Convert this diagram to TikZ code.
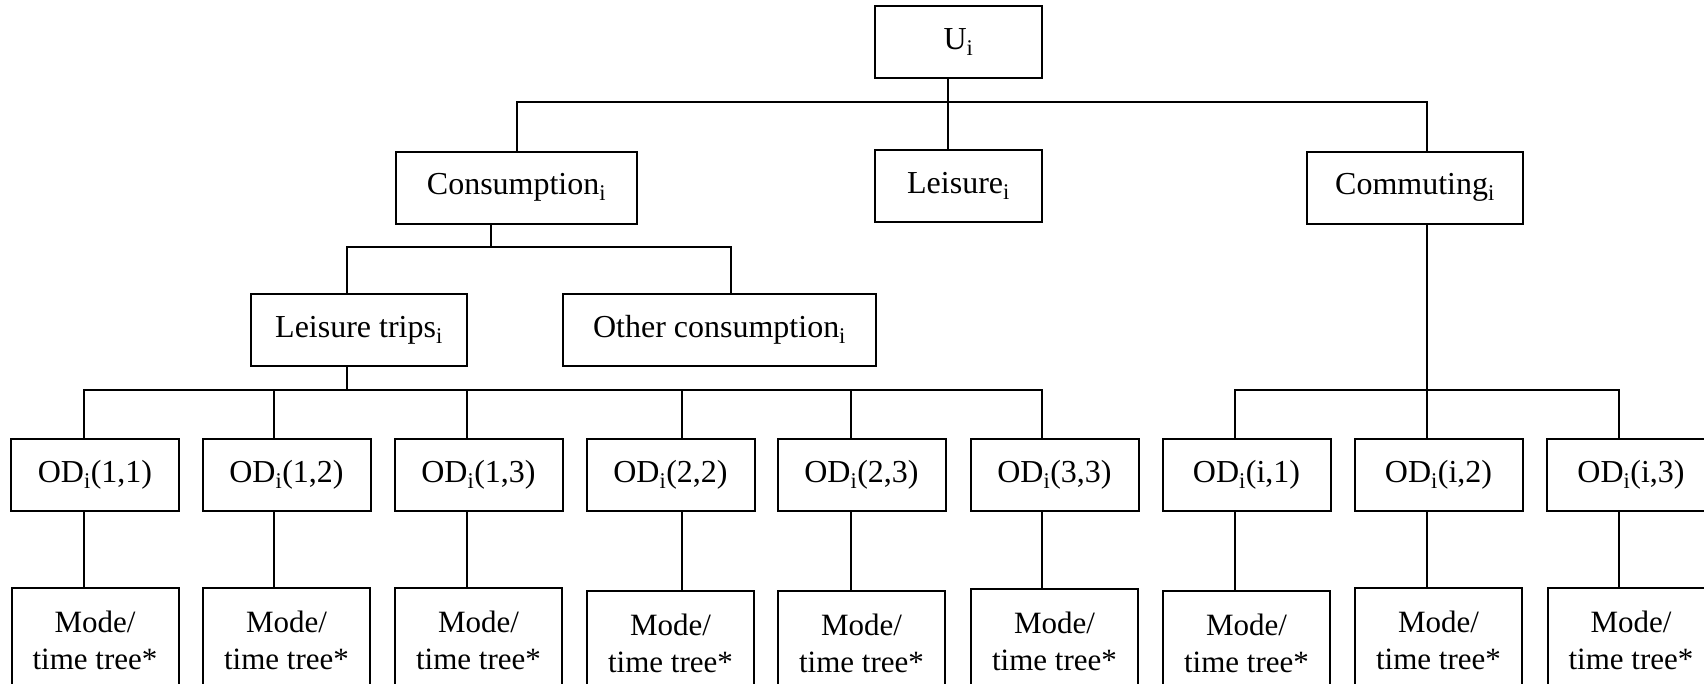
\documentclass[tikz,border=0pt]{standalone}
\usepackage{fontspec}
\setmainfont{Liberation Serif}

\begin{document}
\begin{tikzpicture}[x=1pt,y=-1pt,line width=2pt,
    box/.style={draw,rectangle,inner sep=0pt,minimum height=72pt,font=\fontsize{32}{37}\selectfont},
    leaf/.style={box,align=center,minimum width=167pt,minimum height=104pt,font=\fontsize{31}{37}\selectfont}]

    \useasboundingbox (0,0) rectangle (1704,683);

    % upper levels
    \node[box,minimum width=167pt] (U) at (958.5,42) {U\textsubscript{i}};
    \node[box,minimum width=241pt] (cons) at (516.5,187.5) {Consumption\textsubscript{i}};
    \node[box,minimum width=167pt] (leis) at (958.5,186) {Leisure\textsubscript{i}};
    \node[box,minimum width=216pt] (comm) at (1415,187.5) {Commuting\textsubscript{i}};
    \node[box,minimum width=216pt] (trips) at (359,330) {Leisure trips\textsubscript{i}};
    \node[box,minimum width=313pt] (other) at (719.5,330) {Other consumption\textsubscript{i}};

    % OD boxes and their mode/time trees
    \foreach \i/\x/\lab/\t in {1/95/{1,1}/588, 2/286.5/{1,2}/588, 3/478.5/{1,3}/588,
                               4/670.5/{2,2}/591, 5/861.5/{2,3}/591, 6/1054.5/{3,3}/589,
                               7/1246.5/{i,1}/591, 8/1438.5/{i,2}/588, 9/1631/{i,3}/588}{
        \node[box,minimum width=168pt] (od\i) at (\x,474.5) {OD\textsubscript{i}(\lab)};
        \node[leaf] (mt\i) at (\x,\t+52) {Mode/\\time tree*};
    }

    % connectors
    \coordinate (top) at (947.5,102);
    \draw (U.south -| top) -- (leis.north -| top);
    \draw (cons.north -| 517,0) |- (top) -| (comm.north -| 1427,0);

    \coordinate (cbus) at (491,246.7);
    \draw (cons.south -| cbus) -- (cbus);
    \draw (trips.north -| 347,0) |- (cbus) -| (other.north -| 731,0);

    \coordinate (tbus) at (347,390);
    \draw (trips.south -| tbus) -- (tbus);
    \draw (od1.north -| 83.7,0) |- (tbus) -| (od6.north -| 1042,0);
    \foreach \i/\x in {2/273.8,3/467.3,4/682.4,5/850.5}{
        \draw (\x,390) -- (od\i.north -| \x,0);
    }

    \coordinate (mbus) at (1427,390);
    \draw (comm.south -| mbus) -- (mbus) -- (od8.north -| mbus);
    \draw (od7.north -| 1234.5,0) |- (mbus) -| (od9.north -| 1619,0);

    \foreach \i/\x in {1/83.7,2/273.8,3/467.3,4/682.4,5/850.5,6/1042,7/1234.5,8/1427,9/1619}{
        \draw (od\i.south -| \x,0) -- (mt\i.north -| \x,0);
    }

\end{tikzpicture}
\end{document}
